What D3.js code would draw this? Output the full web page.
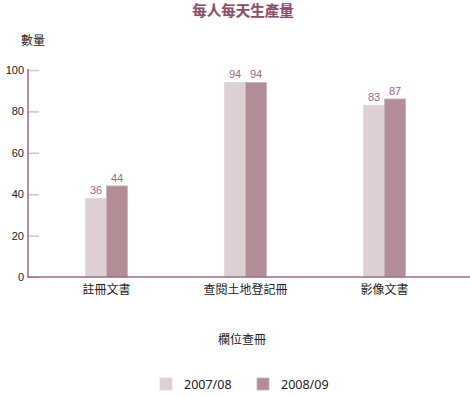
<!DOCTYPE html>
<html><head><meta charset="utf-8">
<script src="https://cdn.jsdelivr.net/npm/d3@7"></script>
<style>body{margin:0;background:#fff}svg{display:block}</style>
</head><body><svg id="c" width="470" height="396"></svg>
<script>
const categories = ["註冊文書", "查閱土地登記冊", "影像文書"];
const seriesNames = ["2007/08", "2008/09"];
const values2007 = [38, 94, 83];
const values2008 = [44, 94, 86];
const labels2007 = ["36", "94", "83"];
const labels2008 = ["44", "94", "87"];
const yTicks = [0, 20, 40, 60, 80, 100];
const colors = ["#ddcfd3", "#b28d96"];

const svg = d3.select("#c");
const font = "'Liberation Sans', Arial, 'Noto Sans CJK TC', sans-serif";
const x = d3.scaleBand().domain(categories).range([37, 454]);
const x1 = d3.scaleBand().domain(seriesNames).range([0, 42]);
const y = d3.scaleLinear().domain([0, 100]).range([277, 70]);
const axisCol = "#9a6b8a";

svg.append("text").attr("x", 243).attr("y", 16).attr("text-anchor", "middle")
  .attr("font-family", "'Noto Sans CJK TC', sans-serif").attr("font-weight", "bold")
  .attr("font-size", 14.5).attr("fill", "#8a4f6a").attr("stroke", "#e6d8e4").attr("stroke-width", 0.6)
  .attr("paint-order", "stroke").text("每人每天生產量");
svg.append("text").attr("x", 21).attr("y", 45).attr("font-family", "'Noto Sans CJK TC', sans-serif")
  .attr("font-size", 12).attr("fill", "#222").text("數量");

// y axis
const ya = svg.append("g").attr("transform", "translate(28,0)")
  .call(d3.axisRight(y).tickValues(yTicks).tickSize(11).tickFormat(""));
ya.select(".domain").remove();
ya.selectAll(".tick line").attr("stroke", "#c8c8d0").attr("stroke-width", 1.5);
svg.append("g").selectAll("text").data(yTicks).join("text")
  .attr("x", 24).attr("y", d => y(d) + 4).attr("text-anchor", "end")
  .attr("font-family", font).attr("font-size", 11).attr("fill", "#222").text(d => d);

// bars
const data = categories.map((c, i) => ({c, v: [values2007[i], values2008[i]], l: [labels2007[i], labels2008[i]]}));
const g = svg.append("g");
data.forEach(d => {
  seriesNames.forEach((s, j) => {
    const bx = x(d.c) + x.bandwidth() / 2 - 21 + x1(s);
    g.append("rect").attr("x", bx).attr("y", y(d.v[j])).attr("width", x1.bandwidth())
      .attr("height", y(0) - y(d.v[j])).attr("fill", colors[j])
      .attr("stroke", j === 0 ? "#dcd6e6" : "#c9b3c4").attr("stroke-width", 0.8);
    g.append("text").attr("x", bx + x1.bandwidth() / 2).attr("y", y(d.v[j]) - 4)
      .attr("text-anchor", "middle").attr("font-family", font).attr("font-size", 11)
      .attr("fill", "#9a6b8a").text(d.l[j]);
  });
});

// axis lines
svg.append("line").attr("x1", 28).attr("x2", 28).attr("y1", 69).attr("y2", 277.5)
  .attr("stroke", axisCol).attr("stroke-width", 1.5);
svg.append("line").attr("x1", 27.3).attr("x2", 470).attr("y1", 277).attr("y2", 277)
  .attr("stroke", axisCol).attr("stroke-width", 1.5);

// category labels
const xa = svg.append("g").attr("transform", "translate(0,277)")
  .call(d3.axisBottom(x).tickSize(0).tickPadding(8));
xa.select(".domain").remove();
xa.selectAll("text").attr("font-family", "'Noto Sans CJK TC', sans-serif").attr("font-size", 12).attr("fill", "#222");

svg.append("text").attr("x", 242).attr("y", 344).attr("text-anchor", "middle")
  .attr("font-family", "'Noto Sans CJK TC', sans-serif").attr("font-size", 12).attr("fill", "#222").text("欄位查冊");

// legend
const lx = [160, 257];
seriesNames.forEach((s, j) => {
  svg.append("rect").attr("x", lx[j]).attr("y", 378).attr("width", 12).attr("height", 12)
    .attr("fill", colors[j]).attr("stroke", j === 0 ? "#dcd6e6" : "#c9b3c4").attr("stroke-width", 0.8);
  svg.append("text").attr("x", lx[j] + 24).attr("y", 389).attr("font-family", "'Noto Sans', sans-serif")
    .attr("font-size", 12.5).attr("fill", "#222").text(s);
});
</script></body></html>
